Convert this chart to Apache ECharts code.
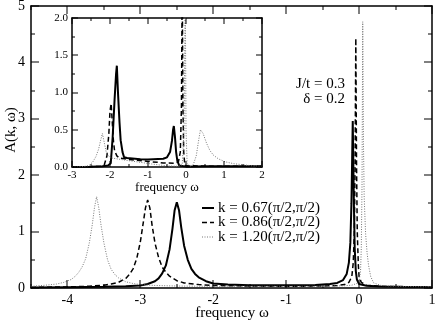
<!DOCTYPE html>
<html>
<head>
<meta charset="utf-8">
<script src="https://cdn.jsdelivr.net/npm/echarts@6/dist/echarts.min.js"></script>
<style>html,body{margin:0;padding:0;background:#fff}#c{width:436px;height:323px}</style>
</head>
<body>
<div id="c"></div>
<script>
// ---- data ----
const mainXTicks = [-4, -3, -2, -1, 0, 1];
const mainXMinorTicks = [-4.5, -3.5, -2.5, -1.5, -0.5, 0.5];
const mainYTicks = [0, 1, 2, 3, 4, 5];
const mainYMinorTicks = [0.5, 1.5, 2.5, 3.5, 4.5];
const insetXTicks = [-3, -2, -1, 0, 1, 2];
const insetXMinorTicks = [-2.5, -1.5, -0.5, 0.5, 1.5];
const insetYTicks = [0, 0.5, 1, 1.5, 2];
const insetYMinorTicks = [0.25, 0.75, 1.25, 1.75];
const seriesNames = ['k = 0.67(π/2,π/2)', 'k = 0.86(π/2,π/2)', 'k = 1.20(π/2,π/2)'];

const mainK067 = [[-4.5,0.01],[-4.0,0.015],[-3.5,0.02],[-3.2,0.03],[-3.0,0.045],[-2.9,0.07],[-2.8,0.12],[-2.75,0.17],[-2.7,0.26],[-2.65,0.4],[-2.6,0.68],[-2.56,1.05],[-2.53,1.38],[-2.5,1.52],[-2.47,1.38],[-2.44,1.08],[-2.4,0.75],[-2.35,0.5],[-2.3,0.34],[-2.25,0.25],[-2.2,0.19],[-2.1,0.12],[-2.0,0.08],[-1.8,0.06],[-1.5,0.05],[-1.0,0.05],[-0.6,0.055],[-0.4,0.07],[-0.3,0.09],[-0.22,0.14],[-0.17,0.25],[-0.14,0.45],[-0.12,0.8],[-0.105,1.5],[-0.095,2.3],[-0.087,2.96],[-0.08,2.3],[-0.07,1.4],[-0.06,0.7],[-0.045,0.3],[-0.03,0.15],[0.0,0.07],[0.1,0.04],[0.3,0.025],[0.6,0.02],[1.0,0.015]];

const mainK086 = [[-4.5,0.01],[-4.0,0.02],[-3.7,0.03],[-3.5,0.05],[-3.4,0.07],[-3.3,0.1],[-3.2,0.17],[-3.15,0.24],[-3.1,0.34],[-3.05,0.52],[-3.0,0.82],[-2.96,1.16],[-2.93,1.42],[-2.9,1.56],[-2.87,1.42],[-2.84,1.12],[-2.8,0.8],[-2.75,0.54],[-2.7,0.37],[-2.65,0.28],[-2.6,0.21],[-2.5,0.13],[-2.4,0.09],[-2.2,0.06],[-2.0,0.045],[-1.5,0.035],[-1.0,0.03],[-0.5,0.035],[-0.3,0.045],[-0.2,0.06],[-0.14,0.1],[-0.1,0.2],[-0.08,0.45],[-0.065,1.0],[-0.055,2.2],[-0.045,4.43],[-0.035,2.2],[-0.025,1.0],[-0.01,0.4],[0.0,0.2],[0.03,0.1],[0.1,0.05],[0.3,0.03],[0.6,0.02],[1.0,0.015]];

const mainK120 = [[-4.5,0.03],[-4.3,0.05],[-4.15,0.07],[-4.05,0.1],[-3.95,0.15],[-3.9,0.2],[-3.85,0.27],[-3.8,0.37],[-3.75,0.52],[-3.7,0.8],[-3.66,1.12],[-3.63,1.42],[-3.6,1.62],[-3.57,1.42],[-3.54,1.12],[-3.5,0.8],[-3.45,0.5],[-3.4,0.33],[-3.35,0.24],[-3.3,0.18],[-3.2,0.11],[-3.1,0.08],[-3.0,0.06],[-2.8,0.045],[-2.5,0.035],[-2.0,0.03],[-1.0,0.03],[-0.5,0.03],[-0.2,0.04],[-0.1,0.05],[-0.03,0.08],[0.0,0.12],[0.02,0.3],[0.03,0.7],[0.04,1.8],[0.05,4.72],[0.06,2.6],[0.07,1.6],[0.09,0.95],[0.11,0.62],[0.13,0.4],[0.16,0.2],[0.2,0.09],[0.3,0.045],[0.5,0.03],[1.0,0.02]];

const insetK067 = [[-3.0,0.0],[-2.5,0.005],[-2.2,0.01],[-2.05,0.02],[-1.98,0.05],[-1.93,0.4],[-1.88,0.9],[-1.84,1.25],[-1.82,1.36],[-1.79,1.0],[-1.75,0.6],[-1.72,0.36],[-1.67,0.2],[-1.63,0.13],[-1.55,0.12],[-1.2,0.105],[-1.0,0.1],[-0.6,0.11],[-0.5,0.13],[-0.42,0.2],[-0.37,0.35],[-0.34,0.5],[-0.32,0.55],[-0.29,0.4],[-0.26,0.2],[-0.23,0.09],[-0.18,0.02],[-0.15,0.0],[0.0,0.005],[0.5,0.01],[1.0,0.01],[1.5,0.01],[2.0,0.01]];

const insetK086 = [[-3.0,0.0],[-2.5,0.005],[-2.25,0.01],[-2.15,0.03],[-2.08,0.15],[-2.03,0.45],[-2.0,0.75],[-1.97,0.85],[-1.94,0.6],[-1.91,0.35],[-1.88,0.22],[-1.82,0.15],[-1.75,0.12],[-1.5,0.1],[-1.0,0.075],[-0.6,0.055],[-0.3,0.05],[-0.2,0.07],[-0.15,0.2],[-0.12,0.8],[-0.1,2.5],[-0.08,0.8],[-0.06,0.2],[-0.03,0.02],[0.0,0.005],[0.5,0.01],[1.0,0.01],[2.0,0.01]];

const insetK120 = [[-3.0,0.0],[-2.7,0.005],[-2.55,0.02],[-2.45,0.07],[-2.37,0.14],[-2.3,0.24],[-2.25,0.35],[-2.2,0.45],[-2.16,0.35],[-2.1,0.2],[-2.05,0.15],[-1.95,0.12],[-1.7,0.1],[-1.3,0.07],[-0.9,0.04],[-0.5,0.015],[-0.2,0.01],[-0.1,0.03],[-0.05,0.5],[-0.02,2.5],[0.0,0.5],[0.03,0.05],[0.1,0.01],[0.19,0.03],[0.27,0.15],[0.33,0.35],[0.38,0.5],[0.4,0.52],[0.45,0.45],[0.54,0.32],[0.63,0.22],[0.72,0.16],[0.85,0.11],[1.03,0.07],[1.25,0.045],[1.5,0.03],[1.75,0.015],[2.0,0.01]];

// ---- chart ----
const FONT = '"Liberation Serif", "DejaVu Serif", serif';
function axLine() { return {show: true, onZero: false, lineStyle: {color: '#000', width: 1.5}}; }
const styles = [
  {color: '#000', width: 2, type: 'solid'},
  {color: '#000', width: 1.5, type: [5, 3]},
  {color: '#777', width: 1, type: [1, 1.5]}
];

function xAxisDef(grid, pos, min, max, ticks, labels, fs, fmt) {
  return {
    type: 'value', gridIndex: grid, position: pos, min: min, max: max,
    axisLine: axLine(), axisTick: {show: false},
    axisLabel: {show: labels, customValues: ticks, fontFamily: FONT, fontSize: fs, color: '#000',
      margin: fs > 12 ? 5 : 3, formatter: fmt},
    splitLine: {show: false}
  };
}
function yAxisDef(grid, pos, min, max, ticks, labels, fs, fmt) {
  return {
    type: 'value', gridIndex: grid, position: pos, min: min, max: max,
    axisLine: axLine(), axisTick: {show: false},
    axisLabel: {show: labels, customValues: ticks, fontFamily: FONT, fontSize: fs, color: '#000',
      margin: fs > 12 ? 6 : 4, formatter: fmt},
    splitLine: {show: false}
  };
}
const fmt1 = v => Number(v).toFixed(1);

function line(name, data, xi, yi, st) {
  return {
    name: name, type: 'line', data: data, xAxisIndex: xi, yAxisIndex: yi,
    symbol: 'none', showSymbol: false, smooth: false, clip: true,
    lineStyle: {color: st.color, width: st.width, type: st.type},
    itemStyle: {color: st.color},
    animation: false
  };
}

// inward tick marks on all four sides: thin filled rects placed through the axes' scales
function tickRect(x, y, w, h) {
  return {type: 'rect', shape: {x: x, y: y, width: w, height: h}, style: {fill: '#000', stroke: null}};
}
function xTickSeries(xi, yi, yMin, yMax, major, minor, majLen, minLen) {
  return {
    type: 'custom', xAxisIndex: xi, yAxisIndex: yi, silent: true, animation: false, clip: false, z: 10,
    data: major.map(v => [v, 1, majLen]).concat(minor.map(v => [v, 1, minLen])),
    encode: {x: 0, y: 1},
    renderItem: function (params, api) {
      const v = api.value(0), len = api.value(2);
      const b = api.coord([v, yMin]), t = api.coord([v, yMax]);
      const x = Math.round(b[0]) - 0.5;
      return {type: 'group', children: [
        tickRect(x, b[1] - len, 1, len),
        tickRect(x, t[1], 1, len)
      ]};
    }
  };
}
function yTickSeries(xi, yi, xMin, xMax, major, minor, majLen, minLen) {
  return {
    type: 'custom', xAxisIndex: xi, yAxisIndex: yi, silent: true, animation: false, clip: false, z: 10,
    data: major.map(v => [xMin, v, majLen]).concat(minor.map(v => [xMin, v, minLen])),
    encode: {x: 0, y: 1},
    renderItem: function (params, api) {
      const v = api.value(1), len = api.value(2);
      const l = api.coord([xMin, v]), r = api.coord([xMax, v]);
      const y = Math.round(l[1]) - 0.5;
      return {type: 'group', children: [
        tickRect(l[0], y, len, 1),
        tickRect(r[0] - len, y, len, 1)
      ]};
    }
  };
}

const graphics = [];
seriesNames.forEach((n, i) => {
  const y = 208 + i * 14.5;
  graphics.push({type: 'line', shape: {x1: 202, y1: y, x2: 214, y2: y},
    style: {stroke: styles[i].color, lineWidth: styles[i].width,
      lineDash: Array.isArray(styles[i].type) ? styles[i].type : null}});
  graphics.push({type: 'text', x: 218, y: y,
    style: {text: n, font: '15px ' + FONT, fill: '#000', verticalAlign: 'middle'}});
});
graphics.push(
  {type: 'text', x: 345, y: 84, style: {text: 'J/t = 0.3', font: '15px ' + FONT, fill: '#000', align: 'right', verticalAlign: 'middle'}},
  {type: 'text', x: 345, y: 99, style: {text: 'δ = 0.2', font: '15px ' + FONT, fill: '#000', align: 'right', verticalAlign: 'middle'}},
  {type: 'text', x: 232, y: 313, style: {text: 'frequency ω', font: '15px ' + FONT, fill: '#000', align: 'center', verticalAlign: 'middle'}},
  {type: 'text', x: 167, y: 188, style: {text: 'frequency ω', font: '13px ' + FONT, fill: '#000', align: 'center', verticalAlign: 'middle'}},
  {type: 'text', x: 11, y: 130, rotation: Math.PI / 2,
    style: {text: 'A(k, ω)', font: '15px ' + FONT, fill: '#000', align: 'center', verticalAlign: 'middle'}}
);

const chart = echarts.init(document.getElementById('c'), null, {renderer: 'canvas'});
chart.setOption({
  animation: false,
  backgroundColor: '#fff',
  grid: [
    {left: 31, top: 6, width: 401, height: 282, outerBoundsMode: 'none'},
    {left: 72, top: 18, width: 190, height: 149, outerBoundsMode: 'none'}
  ],
  xAxis: [
    xAxisDef(0, 'bottom', -4.5, 1, mainXTicks, true, 14),
    xAxisDef(0, 'top', -4.5, 1, mainXTicks, false, 14),
    xAxisDef(1, 'bottom', -3, 2, insetXTicks, true, 11),
    xAxisDef(1, 'top', -3, 2, insetXTicks, false, 11)
  ],
  yAxis: [
    yAxisDef(0, 'left', 0, 5, mainYTicks, true, 14),
    yAxisDef(0, 'right', 0, 5, mainYTicks, false, 14),
    yAxisDef(1, 'left', 0, 2, insetYTicks, true, 11, fmt1),
    yAxisDef(1, 'right', 0, 2, insetYTicks, false, 11, fmt1)
  ],
  series: [
    line(seriesNames[0], mainK067, 0, 0, styles[0]),
    line(seriesNames[1], mainK086, 0, 0, styles[1]),
    line(seriesNames[2], mainK120, 0, 0, styles[2]),
    line('inset 0.67', insetK067, 2, 2, styles[0]),
    line('inset 0.86', insetK086, 2, 2, styles[1]),
    line('inset 1.20', insetK120, 2, 2, styles[2]),
    xTickSeries(0, 0, 0, 5, mainXTicks, mainXMinorTicks, 8, 4),
    yTickSeries(0, 0, -4.5, 1, mainYTicks, mainYMinorTicks, 8, 4),
    xTickSeries(2, 2, 0, 2, insetXTicks, insetXMinorTicks, 6, 3),
    yTickSeries(2, 2, -3, 2, insetYTicks, insetYMinorTicks, 6, 3)
  ],
  graphic: graphics
});
</script>
</body>
</html>
